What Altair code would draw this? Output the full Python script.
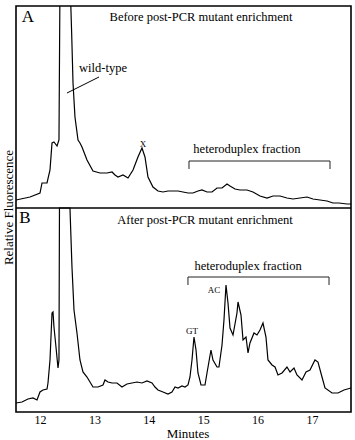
import altair as alt
import pandas as pd

# ---- Panel A trace (Before post-PCR mutant enrichment) ----
a_min = [11.559, 11.816, 12.000, 12.037, 12.129, 12.184, 12.221, 12.257, 12.313, 12.349,
         12.368, 12.551, 12.582, 12.607, 12.643, 12.699, 12.735, 12.772, 12.864, 12.974,
         13.103, 13.232, 13.324, 13.379, 13.434, 13.526, 13.618, 13.710, 13.801, 13.875,
         13.930, 13.985, 14.077, 14.169, 14.261, 14.353, 14.445, 14.537, 14.629, 14.721,
         14.813, 14.904, 14.978, 15.070, 15.162, 15.254, 15.346, 15.438, 15.493, 15.585,
         15.676, 15.805, 15.915, 16.044, 16.173, 16.283, 16.412, 16.540, 16.651, 16.779,
         16.908, 17.018, 17.147, 17.276, 17.386, 17.496, 17.643, 17.717]
a_val = [8, 11, 15, 25, 25, 38, 65, 66, 62, 68,
         230, 230, 175, 125, 91, 68, 65, 61, 48, 37,
         35, 35, 36, 33, 31, 33, 30, 38, 51, 60,
         51, 31, 21, 17, 16, 17, 17, 17, 16, 15,
         15, 17, 18, 16, 16, 20, 20, 24, 22, 19,
         18, 18, 16, 12, 10, 12, 12, 10, 9, 10,
         11, 9, 8, 7, 5, 5, 4, 4]

# ---- Panel B trace (After post-PCR mutant enrichment) ----
b_min = [11.559, 11.669, 11.779, 11.871, 11.945, 12.000, 12.055, 12.129, 12.147, 12.184,
         12.221, 12.239, 12.257, 12.294, 12.331, 12.349, 12.358, 12.551, 12.588, 12.625,
         12.680, 12.735, 12.790, 12.864, 12.919, 12.974, 13.066, 13.158, 13.195, 13.250,
         13.324, 13.415, 13.507, 13.599, 13.691, 13.783, 13.875, 13.967, 14.059, 14.114,
         14.169, 14.261, 14.353, 14.426, 14.482, 14.537, 14.610, 14.665, 14.721, 14.757,
         14.794, 14.831, 14.868, 14.904, 14.960, 15.033, 15.070, 15.143, 15.180, 15.254,
         15.290, 15.346, 15.382, 15.419, 15.456, 15.493, 15.548, 15.621, 15.640, 15.695,
         15.732, 15.787, 15.824, 15.860, 15.934, 15.989, 16.044, 16.099, 16.154, 16.191,
         16.265, 16.320, 16.375, 16.449, 16.540, 16.596, 16.669, 16.724, 16.816, 16.890,
         16.963, 17.055, 17.110, 17.184, 17.239, 17.368, 17.478, 17.588, 17.717]
b_val = [9, 10, 13, 14, 12, 20, 22, 23, 29, 52,
         99, 100, 85, 65, 44, 52, 204, 204, 145, 102,
         79, 52, 40, 35, 30, 25, 25, 27, 32, 30,
         29, 29, 25, 28, 29, 30, 29, 31, 29, 25,
         22, 20, 18, 20, 25, 24, 26, 25, 27, 35,
         52, 75, 62, 39, 27, 27, 39, 62, 52, 45,
         45, 67, 92, 127, 109, 84, 77, 99, 110, 97,
         72, 75, 59, 69, 79, 77, 82, 89, 75, 52,
         47, 45, 37, 39, 45, 40, 44, 37, 32, 40,
         42, 52, 50, 35, 24, 19, 19, 22, 24]

PANEL_B_TOP = 204   # panel A sits on top of panel B
X_DOMAIN = [11.559, 17.717]
Y_DOMAIN = [0, 406]
x_ticks = [12, 13, 14, 15, 16, 17]

# annotations (panel, minutes, level within panel)
lab_text = ["A", "B", "Before post-PCR mutant enrichment", "After post-PCR mutant enrichment",
            "wild-type", "X", "heteroduplex fraction", "heteroduplex fraction", "GT", "AC"]
lab_min = [11.779, 11.724, 14.96, 15.033, 13.158, 13.893, 15.805, 15.824, 14.794, 15.199]
lab_lvl = [191, 194, 191, 192, 140, 64, 59, 146, 81, 122]
lab_panel = ["A", "B", "A", "B", "A", "A", "A", "B", "B", "B"]
lab_size = [17, 17, 12.5, 12.5, 12.5, 9, 12.5, 12.5, 9, 9]

# heteroduplex brackets
br_panel = ["A", "B"]
br_start = [14.739, 14.720]
br_end = [17.331, 17.313]
br_top = [47, 135]
br_bottom = [39, 127]

# wild-type leader line (panel A)
lead_min = [13.085]
lead_min2 = [12.496]
lead_lvl = [131]
lead_lvl2 = [115]

FONT = "Liberation Serif"
xs = alt.Scale(domain=X_DOMAIN, nice=False, zero=False)
ys = alt.Scale(domain=Y_DOMAIN, nice=False, zero=False)

x_axis = alt.Axis(
    values=x_ticks, format="d", ticks=False, tickSize=0, domain=False, grid=False,
    labelFont=FONT, labelFontSize=12, labelColor="black", labelPadding=2,
    title="Minutes", titleFont=FONT, titleFontSize=13, titleFontWeight="normal",
    titleColor="black", titleX=171.5, titleY=21, titleBaseline="middle", titleAlign="center")
y_axis = alt.Axis(
    labels=False, ticks=False, domain=False, grid=False,
    title="Relative Fluorescence", titleFont=FONT, titleFontSize=13,
    titleFontWeight="normal", titleColor="black", titleAngle=270,
    titleX=-8, titleY=201, titleBaseline="middle", titleAlign="center")

dfA = pd.DataFrame({"min": a_min, "val": a_val, "panel": "A"})
dfB = pd.DataFrame({"min": b_min, "val": b_val, "panel": "B"})
df = pd.concat([dfA, dfB], ignore_index=True)

off = f"(datum.panel == 'A' ? {PANEL_B_TOP} : 0)"

traces = alt.Chart(df).transform_calculate(y=f"datum.val + {off}").mark_line(
    color="black", strokeWidth=1.2, clip=True, interpolate="linear"
).encode(
    x=alt.X("min:Q", scale=xs, axis=x_axis),
    y=alt.Y("y:Q", scale=ys, axis=y_axis),
    detail="panel:N",
)

divider = alt.Chart(pd.DataFrame({"y": [PANEL_B_TOP]})).mark_rule(
    color="black", strokeWidth=1.6
).encode(y=alt.Y("y:Q", scale=ys, axis=y_axis))

labels_df = pd.DataFrame({"text": lab_text, "min": lab_min, "lvl": lab_lvl,
                          "panel": lab_panel, "fs": lab_size})
labels = alt.Chart(labels_df).transform_calculate(y=f"datum.lvl + {off}").mark_text(
    font=FONT, color="black", fill="black", align="center", baseline="middle"
).encode(
    x=alt.X("min:Q", scale=xs, axis=x_axis),
    y=alt.Y("y:Q", scale=ys, axis=y_axis),
    text="text:N",
    size=alt.Size("fs:Q", scale=None, legend=None),
)

br_df = pd.DataFrame({"panel": br_panel, "s": br_start, "e": br_end, "t": br_top, "b": br_bottom})
br_base = alt.Chart(br_df).transform_calculate(
    yt=f"datum.t + {off}", yb=f"datum.b + {off}")
br_h = br_base.mark_rule(color="#222", strokeWidth=1).encode(
    x=alt.X("s:Q", scale=xs, axis=x_axis), x2="e:Q", y=alt.Y("yt:Q", scale=ys, axis=y_axis))
br_l = br_base.mark_rule(color="#222", strokeWidth=1).encode(
    x=alt.X("s:Q", scale=xs, axis=x_axis), y=alt.Y("yt:Q", scale=ys, axis=y_axis), y2="yb:Q")
br_r = br_base.mark_rule(color="#222", strokeWidth=1).encode(
    x=alt.X("e:Q", scale=xs, axis=x_axis), y=alt.Y("yt:Q", scale=ys, axis=y_axis), y2="yb:Q")

lead_df = pd.DataFrame({"m1": lead_min, "m2": lead_min2, "l1": lead_lvl, "l2": lead_lvl2})
lead = alt.Chart(lead_df).transform_calculate(
    y1=f"datum.l1 + {PANEL_B_TOP}", y2=f"datum.l2 + {PANEL_B_TOP}"
).mark_rule(color="black", strokeWidth=1).encode(
    x=alt.X("m1:Q", scale=xs, axis=x_axis), x2="m2:Q",
    y=alt.Y("y1:Q", scale=ys, axis=y_axis), y2="y2:Q")

chart = alt.layer(traces, divider, br_h, br_l, br_r, lead, labels).properties(
    width=335, height=406,
    autosize=alt.AutoSizeParams(type="none"),
    padding={"left": 16, "top": 6, "right": 4, "bottom": 28},
    background="white",
).configure_view(stroke="black", strokeWidth=1.6)

chart.save("out.html", embed_options={"renderer": "svg", "actions": False})
